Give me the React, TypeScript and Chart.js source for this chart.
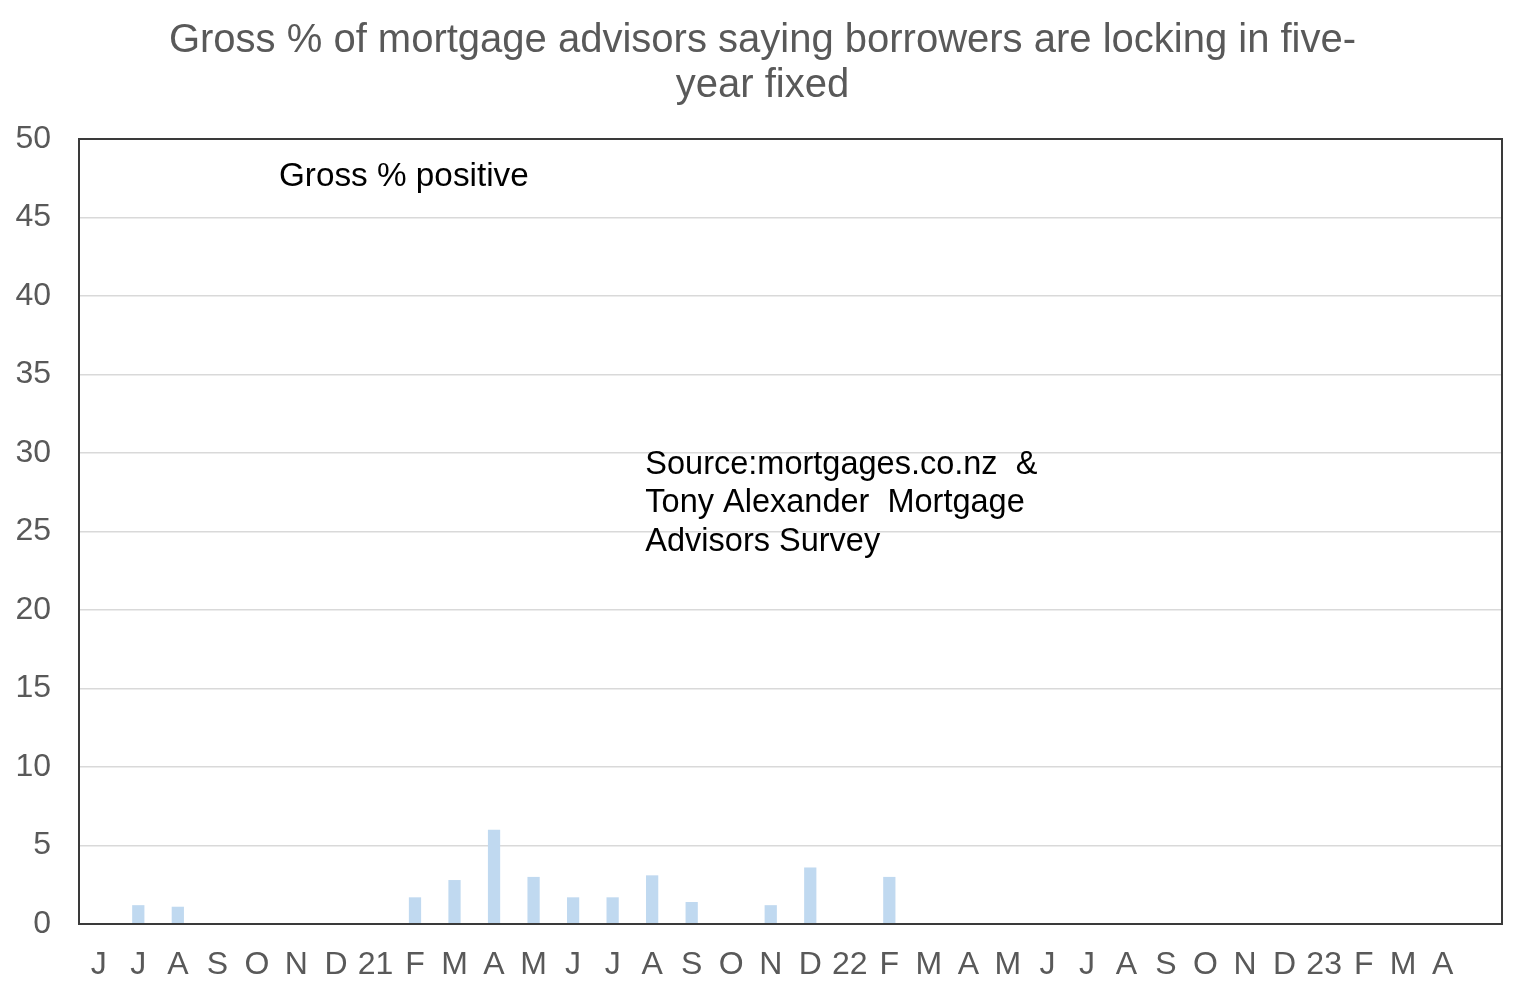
import { useEffect, useRef } from 'react';
import { Chart, registerables } from 'chart.js';

Chart.register(...registerables);

const MONTH_LABELS = [
  'J', 'J', 'A', 'S', 'O', 'N', 'D', '21', 'F', 'M', 'A', 'M',
  'J', 'J', 'A', 'S', 'O', 'N', 'D', '22', 'F', 'M', 'A', 'M',
  'J', 'J', 'A', 'S', 'O', 'N', 'D', '23', 'F', 'M', 'A', '',
];

// gross % of advisors reporting five-year fixed locks (gaps = no reading)
const GROSS_POSITIVE: (number | null)[] = [
  null, 1.2, 1.1, null, null, null, null, null, 1.7, 2.8, 6.0, 3.0,
  1.7, 1.7, 3.1, 1.4, null, 1.2, 3.6, null, 3.0, null, null, null,
  null, null, null, null, null, null, null, null, null, null, null, null,
];

const TITLE_LINES = [
  'Gross % of mortgage advisors saying borrowers are locking in five-',
  'year fixed',
];

const Y_MIN = 0;
const Y_MAX = 50;
const Y_STEP = 5;

const SERIES_LABEL = 'Gross % positive';
const SOURCE_LINES = [
  'Source:mortgages.co.nz  &',
  'Tony Alexander  Mortgage',
  'Advisors Survey',
];

const FONT = '"Liberation Sans", Arial, sans-serif';
const AXIS_TEXT = '#595959';

// in-plot text boxes: x as fraction of plot width, y in data units
const notesPlugin = {
  id: 'notes',
  afterDraw(chart: Chart) {
    const { ctx, chartArea } = chart;
    const y = chart.scales.y;
    const w = chartArea.right - chartArea.left;
    ctx.save();
    ctx.fillStyle = '#000000';
    ctx.textAlign = 'left';
    ctx.textBaseline = 'middle';
    ctx.font = `33.3px ${FONT}`;
    ctx.fillText(SERIES_LABEL, chartArea.left + w * 0.1405, y.getPixelForValue(47.6));
    ctx.font = `32.5px ${FONT}`;
    const sourceY = [29.25, 26.8, 24.35];
    SOURCE_LINES.forEach((line, i) => {
      ctx.fillText(line, chartArea.left + w * 0.398, y.getPixelForValue(sourceY[i]));
    });
    ctx.restore();
  },
};

const framePlugin = {
  id: 'frame',
  afterDraw(chart: Chart) {
    const { ctx, chartArea } = chart;
    ctx.save();
    ctx.strokeStyle = '#3a3a3a';
    ctx.lineWidth = 2;
    ctx.strokeRect(
      chartArea.left,
      chartArea.top,
      chartArea.right - chartArea.left,
      chartArea.bottom - chartArea.top,
    );
    ctx.restore();
  },
};

export default function App() {
  const canvasRef = useRef<HTMLCanvasElement | null>(null);
  const chartRef = useRef<Chart | null>(null);

  useEffect(() => {
    const canvas = canvasRef.current;
    if (!canvas) return;

    if (chartRef.current) {
      chartRef.current.destroy();
      chartRef.current = null;
    }

    chartRef.current = new Chart(canvas, {
      type: 'bar',
      data: {
        labels: MONTH_LABELS,
        datasets: [
          {
            label: SERIES_LABEL,
            data: GROSS_POSITIVE,
            backgroundColor: '#c0d9f0',
            borderWidth: 0,
            categoryPercentage: 1,
            barPercentage: 0.31,
          },
        ],
      },
      options: {
        responsive: true,
        maintainAspectRatio: false,
        animation: false,
        layout: { padding: 0 },
        plugins: {
          legend: { display: false },
          tooltip: { enabled: false },
          title: {
            display: true,
            text: TITLE_LINES,
            color: AXIS_TEXT,
            font: { family: FONT, size: 40, weight: 'normal', lineHeight: 45 / 40 },
            padding: { top: 18.5, bottom: 30.5 },
          },
        },
        scales: {
          x: {
            grid: { display: false },
            border: { display: false },
            ticks: {
              color: AXIS_TEXT,
              font: { family: FONT, size: 32 },
              autoSkip: false,
              maxRotation: 0,
              minRotation: 0,
              padding: 14,
            },
            afterFit: (scale) => {
              scale.height = 73;
            },
          },
          y: {
            min: Y_MIN,
            max: Y_MAX,
            grid: { color: '#d9d9d9', lineWidth: 1.5, drawTicks: false },
            border: { display: false },
            ticks: {
              stepSize: Y_STEP,
              color: AXIS_TEXT,
              font: { family: FONT, size: 32 },
              padding: 28,
            },
            afterFit: (scale) => {
              scale.width = 79;
            },
          },
          // empty right-hand strip so the title centres on the whole canvas
          yPad: {
            position: 'right',
            grid: { display: false },
            border: { display: false },
            ticks: { display: false },
            afterFit: (scale) => {
              scale.width = 23;
            },
          },
        },
      },
      plugins: [notesPlugin, framePlugin],
    });

    return () => {
      if (chartRef.current) {
        chartRef.current.destroy();
        chartRef.current = null;
      }
    };
  }, []);

  return (
    <div style={{ position: 'fixed', left: 0, top: 0, width: 1525, height: 997, background: '#ffffff' }}>
      <canvas ref={canvasRef} />
    </div>
  );
}
